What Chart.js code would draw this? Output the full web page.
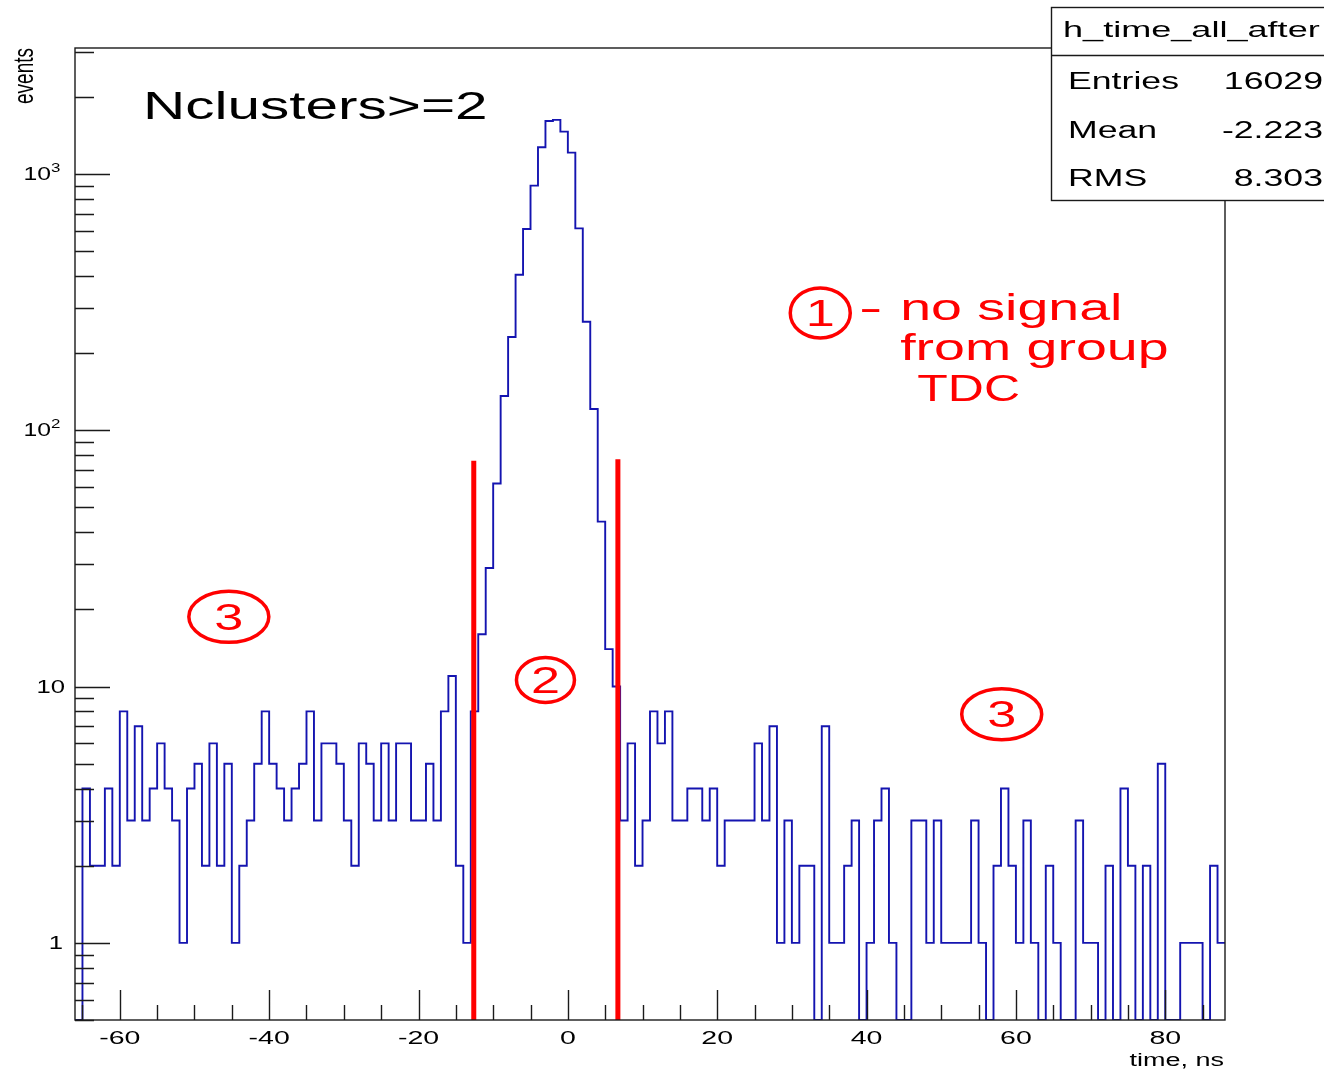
<!DOCTYPE html>
<html>
<head>
<meta charset="utf-8">
<script src="https://cdn.jsdelivr.net/npm/chart.js@4.4.1/dist/chart.umd.min.js"></script>
<style>
  html, body { margin: 0; padding: 0; background: #ffffff; }
  canvas { display: block; }
</style>
</head>
<body>
<canvas id="c" width="1324" height="1071"></canvas>
<script>
// h_time_all_after: time distribution, 1 ns bins starting at -66 ns
const binStart = -66;
const binWidth = 1;
const counts = [
  0, 4, 2, 2, 4, 2, 8, 3, 7, 3,          // -66 .. -57
  4, 6, 4, 3, 1, 4, 5, 2, 6, 2,          // -56 .. -47
  5, 1, 2, 3, 5, 8, 5, 4, 3, 4,          // -46 .. -37
  5, 8, 3, 6, 6, 5, 3, 2, 6, 5,          // -36 .. -27
  3, 6, 3, 6, 6, 3, 3, 5, 3, 8,          // -26 .. -17
  11, 2, 1, 8, 16, 29, 62, 136, 231, 404, // -16 .. -7
  610, 900, 1271, 1610, 1625, 1463, 1211, 613, 265, 121, // -6 .. 3
  44, 14, 10, 3, 6, 2, 3, 8, 6, 8,       // 4 .. 13
  3, 3, 4, 4, 3, 4, 2, 3, 3, 3,          // 14 .. 23
  3, 6, 3, 7, 1, 3, 1, 2, 2, 0,          // 24 .. 33
  7, 1, 1, 2, 3, 0, 1, 3, 4, 1,          // 34 .. 43
  0, 0, 3, 3, 1, 3, 1, 1, 1, 1,          // 44 .. 53
  3, 1, 0, 2, 4, 2, 1, 3, 1, 0,          // 54 .. 63
  2, 1, 0, 0, 3, 1, 1, 0, 2, 0,          // 64 .. 73
  4, 2, 0, 2, 0, 5, 0, 0, 1, 1,          // 74 .. 83
  1, 0, 2, 1                             // 84 .. 87
];

// Axis ranges
const xMin = -66, xMax = 88;
const yMin = 0.5, yMax = 3100;

// Tick labels
const xTickValues = [-60, -40, -20, 0, 20, 40, 60, 80];
const xTickLabels = ['-60', '-40', '-20', '0', '20', '40', '60', '80'];
const yTickValues = [1, 10, 100, 1000];
const yTickBases = ['1', '10', '10', '10'];
const yTickExponents = ['', '', '2', '3'];

// Timing cut window (ns) and the height the cut markers reach (events)
const cutTimes = [-12.6, 6.7];
const cutTops = [76, 77];

// Statistics panel
const statsTitle = 'h_time_all_after';
const statsNames = ['Entries', 'Mean', 'RMS'];
const statsValues = ['16029', '-2.223', '8.303'];

// Annotations, anchored in data coordinates (time, events)
const headline = { text: 'Nclusters>=2', x: -56.9, y: 1638 };
const regionMarks = [
  { digit: '1', x: 33.8, y: 287, rx: 30, ry: 25 },
  { digit: '2', x: -3.0, y: 10.6, rx: 29, ry: 22.5 },
  { digit: '3', x: -45.4, y: 18.7, rx: 40, ry: 25.5 },
  { digit: '3', x: 58.1, y: 7.8, rx: 40, ry: 25.5 }
];
const noteLines = [
  { text: '-', x: 39.0, y: 269, sx: 1.9 },
  { text: 'no signal', x: 44.5, y: 269, sx: 1.5 },
  { text: 'from group', x: 44.5, y: 188, sx: 1.5 },
  { text: 'TDC', x: 46.8, y: 130, sx: 1.35 }
];

// Step outline: each point opens a bin, the final point closes the last bin
const histPoints = counts.map((c, i) => ({ x: binStart + i * binWidth, y: c > 0 ? c : yMin }));
histPoints.push({ x: binStart + counts.length * binWidth, y: histPoints[histPoints.length - 1].y });

const FONT = '"Liberation Sans", Arial, Helvetica, sans-serif';

function wideText(ctx, str, x, y, size, sx, align, color, baseline) {
  ctx.save();
  ctx.translate(x, y);
  ctx.scale(sx, 1);
  ctx.font = size + 'px ' + FONT;
  ctx.fillStyle = color;
  ctx.textAlign = align;
  ctx.textBaseline = baseline || 'alphabetic';
  ctx.fillText(str, 0, 0);
  ctx.restore();
}

const frameAndText = {
  id: 'frameAndText',
  afterDatasetsDraw(chart) {
    const ctx = chart.ctx;
    const xs = chart.scales.x, ys = chart.scales.y;
    const a = chart.chartArea;

    ctx.save();
    ctx.strokeStyle = '#1a1a1a';
    ctx.lineWidth = 1.4;
    ctx.strokeRect(a.left, a.top, a.right - a.left, a.bottom - a.top);

    // x ticks: long every 20 ns, short every 5 ns, pointing into the frame
    ctx.beginPath();
    for (let v = -65; v <= 85; v += 5) {
      const px = Math.round(xs.getPixelForValue(v)) + 0.5;
      const len = (v % 20 === 0) ? 30 : 15;
      ctx.moveTo(px, a.bottom);
      ctx.lineTo(px, a.bottom - len);
    }
    // y ticks: decades long, 2..9 short
    for (let d = 0.1; d <= 1000; d *= 10) {
      for (let m = 1; m <= 9; m++) {
        const v = Math.round(d * m * 10) / 10;
        if (v < yMin || v > yMax) continue;
        const py = Math.round(ys.getPixelForValue(v)) + 0.5;
        const len = (m === 1) ? 35 : 19;
        ctx.moveTo(a.left, py);
        ctx.lineTo(a.left + len, py);
      }
    }
    ctx.stroke();
    ctx.restore();

    // x tick labels
    xTickValues.forEach((v, i) => {
      wideText(ctx, xTickLabels[i], xs.getPixelForValue(v), 1039, 19, 1.5, 'center', '#000', 'middle');
    });
    // y tick labels
    yTickValues.forEach((v, i) => {
      const py = ys.getPixelForValue(v);
      if (yTickExponents[i]) {
        wideText(ctx, yTickBases[i], 51, py + 1, 19, 1.3, 'right', '#000', 'middle');
        wideText(ctx, yTickExponents[i], 51, py - 6, 13, 1.3, 'left', '#000', 'middle');
      } else {
        wideText(ctx, yTickBases[i], v === 1 ? 63 : 65, py + 1, 19, 1.35, 'right', '#000', 'middle');
      }
    });

    // axis titles
    wideText(ctx, 'time, ns', 1224, 1061, 18, 1.5, 'right', '#000', 'middle');
    ctx.save();
    ctx.translate(25, 48);
    ctx.rotate(-Math.PI / 2);
    ctx.scale(1, 1.5);
    ctx.font = '19px ' + FONT;
    ctx.fillStyle = '#000';
    ctx.textAlign = 'right';
    ctx.textBaseline = 'middle';
    ctx.fillText('events', 0, 0);
    ctx.restore();

    // headline
    wideText(ctx, headline.text, xs.getPixelForValue(headline.x), ys.getPixelForValue(headline.y), 39, 1.5, 'left', '#000');

    // circled region numbers
    regionMarks.forEach(r => {
      const cx = xs.getPixelForValue(r.x), cy = ys.getPixelForValue(r.y);
      ctx.save();
      ctx.strokeStyle = '#ff0000';
      ctx.lineWidth = 3.5;
      ctx.beginPath();
      ctx.ellipse(cx, cy, r.rx, r.ry, 0, 0, Math.PI * 2);
      ctx.stroke();
      ctx.restore();
      wideText(ctx, r.digit, cx, cy + 13, 36, 1.45, 'center', '#ff0000');
    });

    // explanation of region 1
    noteLines.forEach(n => {
      wideText(ctx, n.text, xs.getPixelForValue(n.x), ys.getPixelForValue(n.y), 37, n.sx, 'left', '#ff0000');
    });

    // statistics panel
    ctx.save();
    ctx.fillStyle = '#ffffff';
    ctx.fillRect(1051.5, 7.5, 300, 193);
    ctx.strokeStyle = '#1a1a1a';
    ctx.lineWidth = 1.4;
    ctx.strokeRect(1051.5, 7.5, 300, 193);
    ctx.beginPath();
    ctx.moveTo(1051.5, 55.5);
    ctx.lineTo(1324, 55.5);
    ctx.stroke();
    ctx.restore();
    wideText(ctx, statsTitle, 1063, 37, 22, 1.64, 'left', '#000');
    statsNames.forEach((name, i) => {
      const base = 89 + i * 48.5;
      wideText(ctx, name, 1068, base, 23, 1.55, 'left', '#000');
      wideText(ctx, statsValues[i], 1323, base, 23, 1.55, 'right', '#000');
    });
  }
};

new Chart(document.getElementById('c').getContext('2d'), {
  type: 'line',
  data: {
    datasets: [
      {
        label: 'cut low',
        data: [{ x: cutTimes[0], y: cutTops[0] }, { x: cutTimes[0], y: yMin }],
        borderColor: '#ff0000',
        borderWidth: 5,
        borderCapStyle: 'butt',
        pointRadius: 0,
        fill: false,
        order: 1
      },
      {
        label: 'cut high',
        data: [{ x: cutTimes[1], y: cutTops[1] }, { x: cutTimes[1], y: yMin }],
        borderColor: '#ff0000',
        borderWidth: 5,
        borderCapStyle: 'butt',
        pointRadius: 0,
        fill: false,
        order: 1
      },
      {
        label: 'h_time_all_after',
        data: histPoints,
        stepped: 'before',
        borderColor: '#1414b0',
        borderWidth: 1.9,
        pointRadius: 0,
        fill: false,
        tension: 0,
        order: 2
      }
    ]
  },
  options: {
    responsive: false,
    animation: false,
    devicePixelRatio: 1,
    events: [],
    layout: { padding: { top: 48, right: 99, left: 0, bottom: 0 } },
    scales: {
      x: {
        type: 'linear',
        min: xMin,
        max: xMax,
        grid: { display: false },
        border: { display: false },
        ticks: { display: false },
        afterFit(scale) { scale.height = 51; }
      },
      y: {
        type: 'logarithmic',
        min: yMin,
        max: yMax,
        grid: { display: false },
        border: { display: false },
        ticks: { display: false },
        afterFit(scale) { scale.width = 75; }
      }
    },
    plugins: {
      legend: { display: false },
      tooltip: { enabled: false }
    }
  },
  plugins: [frameAndText]
});
</script>
</body>
</html>
